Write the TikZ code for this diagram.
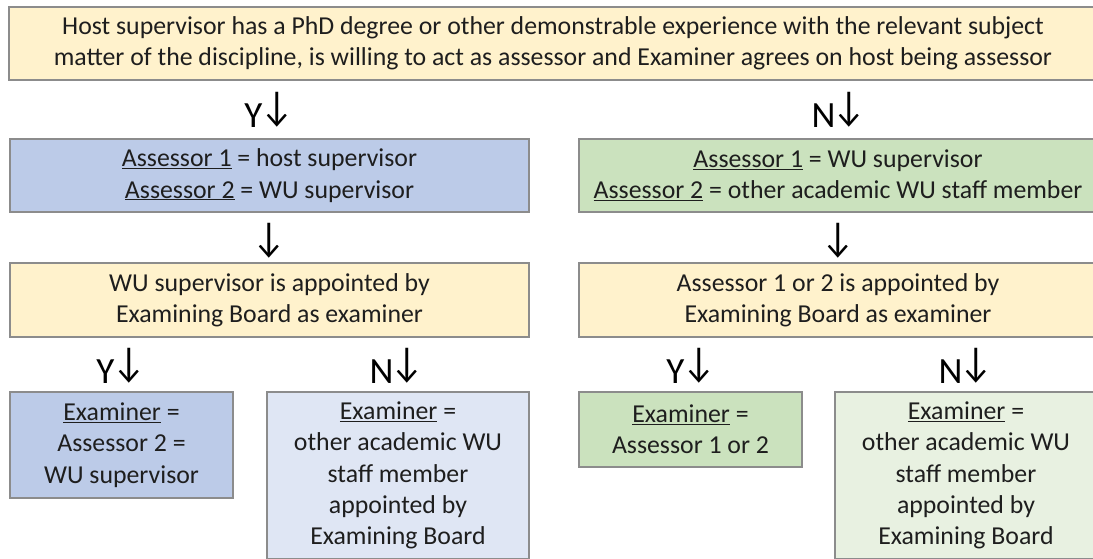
\documentclass[tikz,border=0pt]{standalone}
\usepackage{graphicx}
\usepackage{fontspec}
\setmainfont{Carlito}
\usetikzlibrary{positioning}
\definecolor{boxgray}{HTML}{8C8C8C}
\definecolor{inkgray}{HTML}{1E1E1E}
\definecolor{condyellow}{HTML}{FFF2CC}
\definecolor{hostblue}{HTML}{BCCBE8}
\definecolor{wugreen}{HTML}{CBE2BE}
\definecolor{paleblue}{HTML}{DFE6F4}
\definecolor{palegreen}{HTML}{E8F1E1}
\newcommand{\dnarrow}{\raisebox{7pt}{\scalebox{1}[1.13]{↓}}}
\newcommand{\yesno}[1]{#1\kern-2.5pt\dnarrow}
\tikzstyle{box}=[draw=boxgray, line width=1.3pt, inner sep=0pt, align=center, text=inkgray, font=\fontsize{25.8}{31.3}\selectfont]
\tikzstyle{cond}=[box, fill=condyellow]
\tikzstyle{yn}=[inner sep=0pt, anchor=base, font=\fontsize{37}{40}\selectfont]

\begin{document}
\begin{tikzpicture}[x=1pt,y=-1pt,node distance=65.5pt]
\useasboundingbox (0,0) rectangle (1093,558);
  \node[cond, minimum width=1088pt, minimum height=73pt] at (553,43.5) (host) {Host supervisor has a PhD degree or other demonstrable experience with the relevant subject\\matter of the discipline, is willing to act as assessor and Examiner agrees on host being assessor};

  \node[yn] at (269,127) (yesA) {\yesno{Y}};
  \node[yn] at (839,127) (noA) {\yesno{N}};

% assessors
  \node[box, fill=hostblue, minimum width=519pt, minimum height=73pt] at (269.5,175.5) (asA) {\underline{Assessor 1} = host supervisor\\\underline{Assessor 2} = WU supervisor};
  \node[box, fill=wugreen, minimum width=518pt, minimum height=73pt] at (838,175.5) (asB) {\underline{Assessor 1} = WU supervisor\\\underline{Assessor 2} = other academic WU staff member};

  \node[yn, anchor=center, below of = asA] (downA) {\dnarrow};
  \node[yn, anchor=center, below of = asB] (downB) {\dnarrow};

% appointment
  \node[cond, minimum width=519pt, minimum height=74pt] at (269.5,300) (apA) {WU supervisor is appointed by\\Examining Board as examiner};
  \node[cond, minimum width=518pt, minimum height=74pt] at (838,300) (apB) {Assessor 1 or 2 is appointed by\\Examining Board as examiner};

  \node[yn] at (121,383) (yesB) {\yesno{Y}};
  \node[yn] at (397,383) (noB) {\yesno{N}};
  \node[yn] at (691,383) (yesC) {\yesno{Y}};
  \node[yn] at (966,383) (noC) {\yesno{N}};

% examiners
  \node[box, fill=hostblue, minimum width=223pt, minimum height=106pt] at (121.5,445) (exA) {\underline{Examiner} =\\Assessor 2 =\\WU supervisor};
  \node[box, fill=paleblue, minimum width=262pt, minimum height=167pt] at (398,475.5) (exB) {\underline{Examiner} =\\other academic WU\\staff member\\appointed by\\Examining Board};
  \node[box, fill=wugreen, minimum width=223pt, minimum height=75pt] at (690.5,429.5) (exC) {\underline{Examiner} =\\Assessor 1 or 2};
  \node[box, fill=palegreen, minimum width=262pt, minimum height=167pt] at (966,475.5) (exD) {\underline{Examiner} =\\other academic WU\\staff member\\appointed by\\Examining Board};
\end{tikzpicture}
\end{document}
